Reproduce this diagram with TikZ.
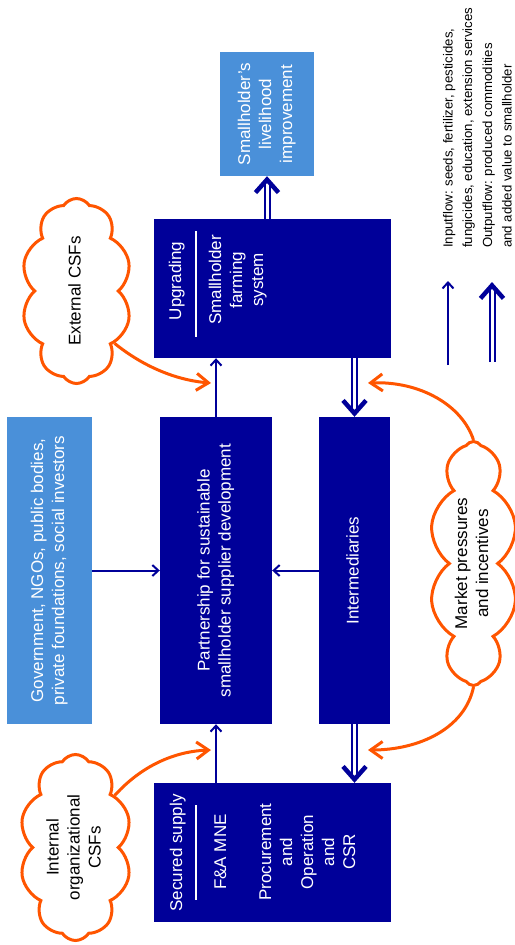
\documentclass[tikz,border=0pt]{standalone}
\usepackage{fontspec}
\setmainfont{Liberation Sans}
\usepackage{xcolor}
\usepackage{tikz}
\usetikzlibrary{arrows.meta,shapes.symbols}

\definecolor{navy}{RGB}{0,0,153}
\definecolor{skyblue}{RGB}{74,144,217}
\definecolor{flame}{RGB}{255,85,0}

% upright text turned to read bottom to top
\newcommand{\vtext}[1]{\rotatebox{90}{\begin{tabular}{@{}c@{}}#1\end{tabular}}}
\newcommand{\vleft}[1]{\rotatebox{90}{\begin{tabular}{@{}l@{}}#1\end{tabular}}}

\begin{document}
\begin{tikzpicture}[x=1pt, y=-1pt,
    every node/.style={font=\fontsize{17}{21}\selectfont, inner sep=0pt},
    darkbox/.style={fill=navy, text=white},
    lightbox/.style={fill=skyblue, text=white},
    cloudbox/.style={cloud, cloud puffs=10, cloud puff arc=115, cloud ignores aspect,
        draw=flame, line width=3pt},
    inflow/.style={navy, line width=2pt, -{Straight Barb[length=6pt, width=11pt]}},
    outflow/.style={draw=navy, double=white, double distance=3pt, line width=2pt,
        -{Straight Barb[length=13pt, width=23pt, line width=4.5pt]}},
    pressure/.style={flame, line width=3pt, -{Straight Barb[length=12pt, width=17pt]}}]

    \useasboundingbox (0,0) rectangle (514,945);

    % Boxes
    \node[lightbox, minimum width=94pt, minimum height=124pt] (live) at (267,114)
        {\vtext{Smallholder’s\\livelihood\\improvement}};
    \node[darkbox, minimum width=237pt, minimum height=139pt] (upg) at (272.5,288.5) {};
    \node[lightbox, minimum width=85pt, minimum height=307pt] (gov) at (49.5,570.5)
        {\vtext{Government, NGOs, public bodies,\\private foundations, social investors}};
    \node[darkbox, minimum width=112pt, minimum height=307pt] (part) at (216,570.5)
        {\vtext{Partnership for sustainable\\smallholder supplier development}};
    \node[darkbox, minimum width=71pt, minimum height=307pt] (inter) at (354.5,570.5)
        {\vtext{Intermediaries}};
    \node[darkbox, minimum width=237pt, minimum height=139pt] (sec) at (272.5,852.5) {};

    % Texts inside the two wide boxes
    \node[text=white] (upgtitle) at (177,281) {\vtext{Upgrading}};
    \node[text=white] (upgsys) at (238,280) {\vtext{Smallholder\\farming\\system}};
    \draw[white, line width=2pt] (196,231) -- (196,337);

    \node[text=white] (sectitle) at (178,853) {\vtext{Secured supply}};
    \node[text=white] (secmne) at (222,852) {\vtext{F\&A MNE}};
    \node[text=white] (secproc) at (309,852) {\vtext{Procurement\\and\\Operation\\and\\CSR}};
    \draw[white, line width=2pt] (196,805) -- (196,900);

    % Clouds
    \node[cloudbox, minimum width=110pt, minimum height=185pt] (ext) at (76.5,291)
        {\vtext{External CSFs}};
    \node[cloudbox, minimum width=74pt, minimum height=244pt] (mkt) at (473.5,563.5)
        {\vtext{Market pressures\\and incentives}};
    \node[cloudbox, minimum width=112pt, minimum height=186pt] (int) at (75.5,847.5)
        {\vtext{Internal\\organizational\\CSFs}};

    % Flows between boxes
    \draw[inflow] (part.north) -- (part.north |- upg.south);
    \draw[inflow] (sec.north -| part.south) -- (part.south);
    \draw[inflow] (gov.east) -- (part.west);
    \draw[inflow] (inter.west) -- (part.east);
    \draw[outflow] (upg.north -| live.south) -- (live.south);
    \draw[outflow] (upg.south -| inter.north) -- (inter.north);
    \draw[outflow] (inter.south) -- (inter.south |- sec.north);

    % Pressures from the clouds
    \coordinate (extin) at (211,383);
    \coordinate (intin) at (211,750);
    \coordinate (mkttop) at (368,383);
    \coordinate (mktbot) at (368,750);
    \draw[pressure] (ext.-54) .. controls (150,372) and (185,381) .. (extin);
    \draw[pressure] (int.53) .. controls (145,762) and (180,751) .. (intin);
    \draw[pressure] (mkt.north) .. controls (462,405) and (420,381) .. (mkttop);
    \draw[pressure] (mkt.south) .. controls (465,728) and (420,750) .. (mktbot);

    % Legend
    \node[font=\fontsize{13.2}{19.5}\selectfont, anchor=south] (inleg) at (458.5,248)
        {\vleft{Inputflow: seeds, fertilizer, pesticides,\\fungicides, education, extension services}};
    \node[font=\fontsize{13.2}{19.5}\selectfont, anchor=south] (outleg) at (498,248)
        {\vleft{Outputflow: produced commodities\\and added value to smallholder}};
    \coordinate (inA) at (448,365);
    \coordinate (inB) at (448,281);
    \coordinate (outA) at (492,362);
    \coordinate (outB) at (492,282);
    \draw[inflow] (inA) -- (inB);
    \draw[outflow] (outA) -- (outB);

\end{tikzpicture}
\end{document}
